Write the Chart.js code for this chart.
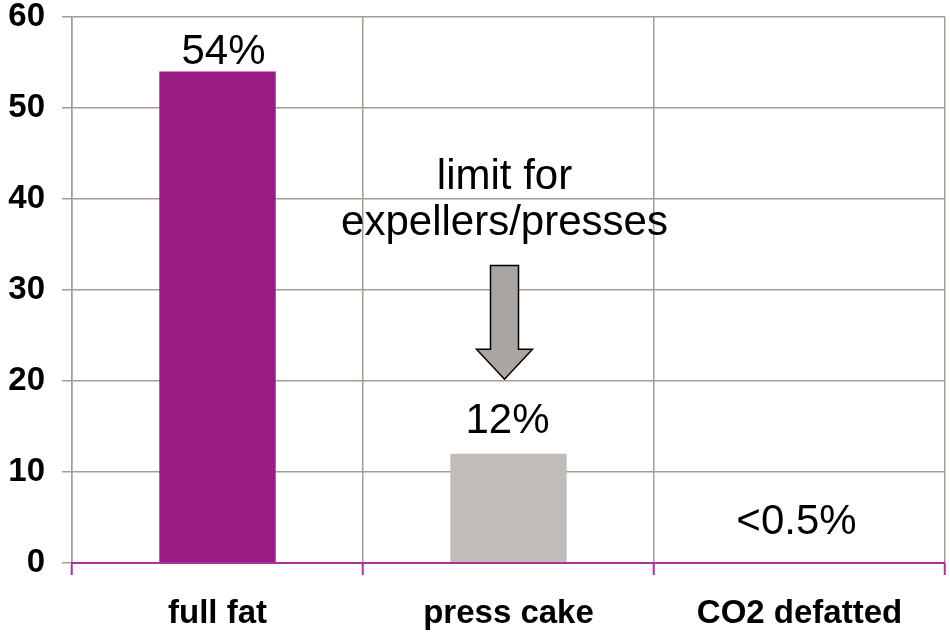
<!DOCTYPE html>
<html>
<head>
<meta charset="utf-8">
<script src="https://cdn.jsdelivr.net/npm/chart.js@4.4.0/dist/chart.umd.min.js"></script>
<style>
  html, body { margin: 0; padding: 0; background: #ffffff; }
  #wrap { width: 950px; height: 632px; }
</style>
</head>
<body>
<div id="wrap"><canvas id="c" width="950" height="632"></canvas></div>
<script>
const categories = ["full fat", "press cake", "CO2 defatted"];
const values = [54, 12, 0];
const valueLabels = ["54%", "12%", "<0.5%"];
const barColors = ["#9b1c85", "#c0bdb8", "#c0bdb8"];
const yTicks = [0, 10, 20, 30, 40, 50, 60];
const annotationLines = ["limit for", "expellers/presses"];

const FONT = "'Liberation Sans', Arial, sans-serif";
const GRID = "#a39d96";
const AXIS_PURPLE = "#a8339a";

const labelPlugin = {
  id: 'valueLabels',
  afterDatasetsDraw(chart) {
    const ctx = chart.ctx;
    const meta = chart.getDatasetMeta(0);
    const gaps = [8, 21, 29];
    const dx = [6, -1, -3];
    ctx.save();
    ctx.font = "42px " + FONT;
    ctx.fillStyle = "#000";
    ctx.textAlign = "center";
    ctx.textBaseline = "alphabetic";
    meta.data.forEach((bar, i) => {
      ctx.fillText(valueLabels[i], bar.x + dx[i], bar.y - gaps[i]);
    });
    ctx.restore();
  }
};

const arrowPlugin = {
  id: 'arrowNote',
  afterDatasetsDraw(chart) {
    const ctx = chart.ctx;
    const xs = chart.scales.x, ys = chart.scales.y;
    const cx = xs.getPixelForValue(1) - 4;
    const shaftTop = ys.getPixelForValue(32.7);
    const headTop = ys.getPixelForValue(23.5);
    const tip = ys.getPixelForValue(20.2);
    const sw = 14, hw = 28;
    ctx.save();
    ctx.beginPath();
    ctx.moveTo(cx - sw, shaftTop);
    ctx.lineTo(cx + sw, shaftTop);
    ctx.lineTo(cx + sw, headTop);
    ctx.lineTo(cx + hw, headTop);
    ctx.lineTo(cx, tip);
    ctx.lineTo(cx - hw, headTop);
    ctx.lineTo(cx - sw, headTop);
    ctx.closePath();
    ctx.fillStyle = "#aaa5a0";
    ctx.fill();
    ctx.lineWidth = 1.5;
    ctx.strokeStyle = "#000";
    ctx.stroke();

    ctx.font = "42px " + FONT;
    ctx.fillStyle = "#000";
    ctx.textAlign = "center";
    ctx.textBaseline = "alphabetic";
    ctx.fillText(annotationLines[0], cx, ys.getPixelForValue(41.1));
    ctx.fillText(annotationLines[1], cx, ys.getPixelForValue(36.0));
    ctx.restore();
  }
};

new Chart(document.getElementById('c'), {
  type: 'bar',
  data: {
    labels: categories,
    datasets: [{
      data: values,
      backgroundColor: barColors,
      borderWidth: 0,
      categoryPercentage: 1.0,
      barPercentage: 0.4
    }]
  },
  options: {
    responsive: false,
    animation: false,
    devicePixelRatio: 1,
    layout: { padding: { top: 0, right: 5, left: 0, bottom: 0 } },
    plugins: { legend: { display: false }, tooltip: { enabled: false } },
    scales: {
      x: {
        offset: true,
        grid: {
          offset: true,
          color: GRID,
          tickColor: AXIS_PURPLE,
          tickWidth: 2,
          tickLength: 12,
          lineWidth: 1.5,
          drawOnChartArea: true
        },
        border: { color: AXIS_PURPLE, width: 2, z: 1 },
        ticks: {
          color: "#000",
          padding: 22,
          font: { family: FONT, size: 33, weight: 'bold', lineHeight: 1 }
        },
        afterFit(scale) { scale.height = 69; }
      },
      y: {
        min: 0,
        max: 60,
        afterBuildTicks(scale) { scale.ticks = yTicks.map(v => ({ value: v })); },
        grid: {
          color: (c) => c.tick && c.tick.value === 0 ? 'rgba(0,0,0,0)' : GRID,
          tickColor: GRID,
          tickLength: 10,
          lineWidth: 1.5
        },
        border: { color: GRID, width: 1.5 },
        ticks: {
          color: "#000",
          padding: 17,
          font: { family: FONT, size: 33, weight: 'bold', lineHeight: 1 }
        },
        afterFit(scale) {
          scale.width = 72;
          scale.paddingTop = 17;
          scale.paddingBottom = 17;
        }
      }
    }
  },
  plugins: [labelPlugin, arrowPlugin]
});
</script>
</body>
</html>
